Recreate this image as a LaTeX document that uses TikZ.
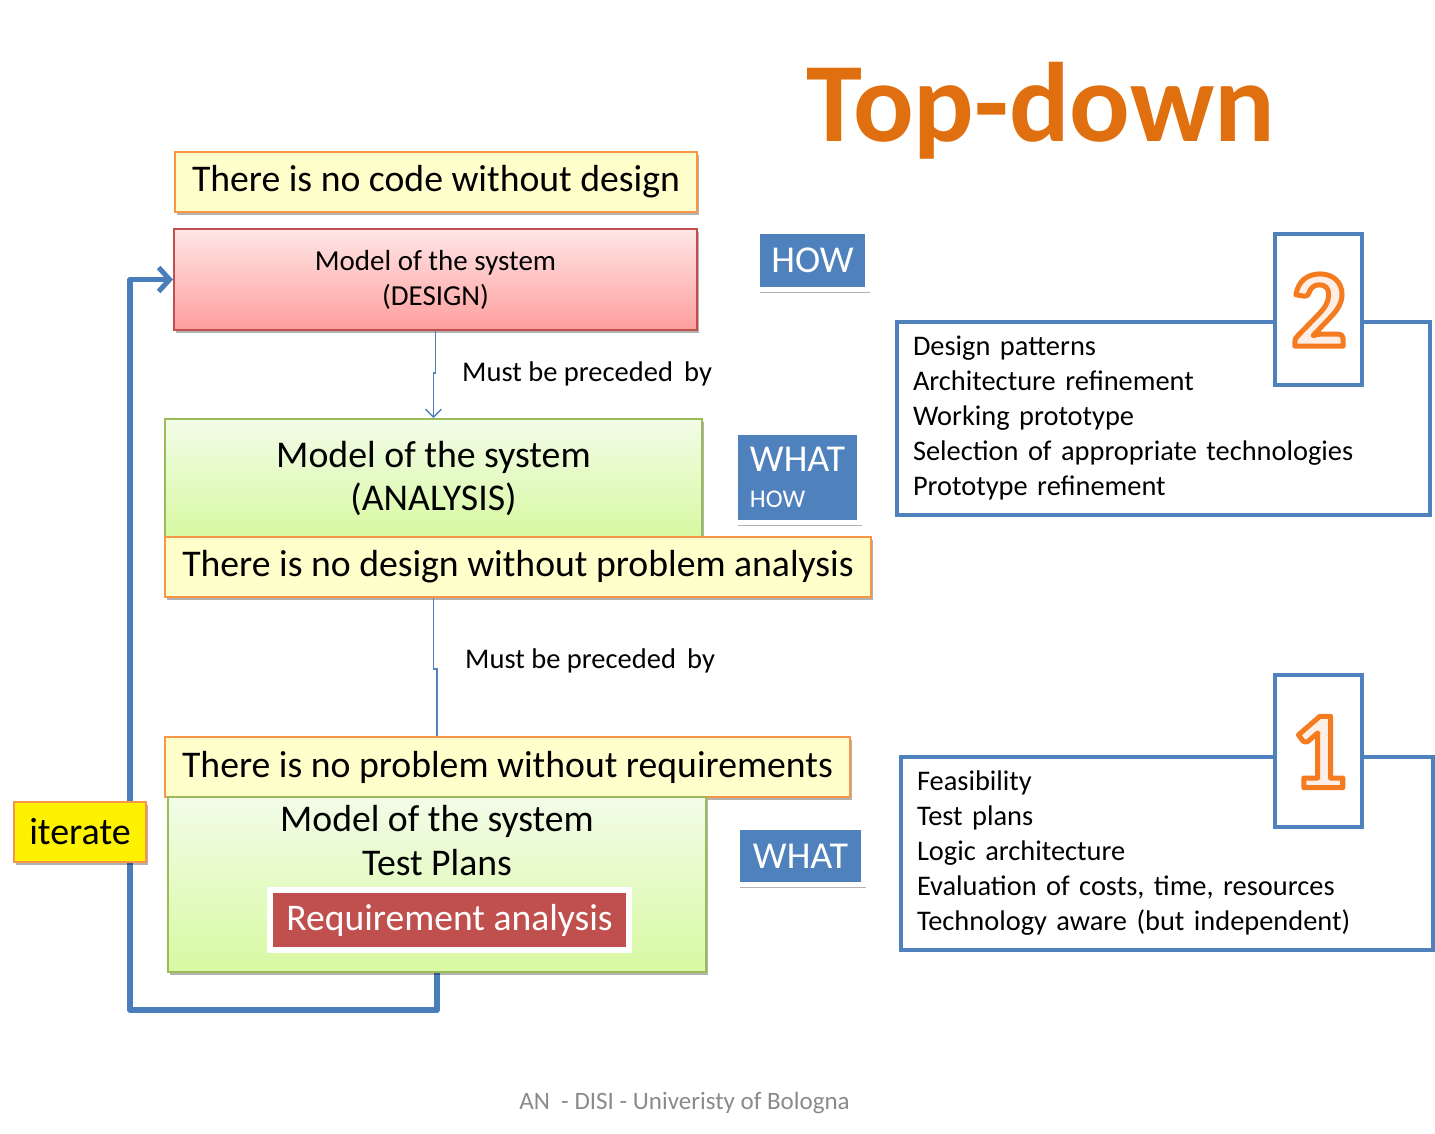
\documentclass[tikz,border=0pt]{standalone}
\usepackage{fontspec}
\setmainfont{Carlito}
\usetikzlibrary{shadows,arrows.meta}

\definecolor{ruleyellow}{HTML}{FFFFCC}
\definecolor{ruleorange}{HTML}{F79646}
\definecolor{designred}{HTML}{C0504D}
\definecolor{designtop}{HTML}{FFE6E6}
\definecolor{designbot}{HTML}{FF9E9E}
\definecolor{greentop}{HTML}{F2FCE8}
\definecolor{greenbot}{HTML}{D8F9A2}
\definecolor{greenline}{HTML}{9BBB59}
\definecolor{tagblue}{HTML}{4F81BD}
\definecolor{loopblue}{HTML}{4A7EBB}
\definecolor{titleorange}{HTML}{E0700F}
\definecolor{digitfill}{HTML}{FDEFE6}
\definecolor{footgray}{HTML}{8A8A8A}

\tikzset{
  softshadow/.style={drop shadow={shadow xshift=2pt, shadow yshift=-3pt, opacity=0.3, fill=black}},
  rulebox/.style={draw=ruleorange, line width=2pt, fill=ruleyellow, inner sep=0pt,
    font=\fontsize{37.7}{44}\selectfont, softshadow},
  designbox/.style={draw=designred, line width=2pt, top color=designtop, bottom color=designbot,
    inner sep=0pt, align=center, font=\fontsize{29}{35}\selectfont, softshadow},
  greenbox/.style={draw=greenline, line width=2pt, top color=greentop, bottom color=greenbot,
    inner sep=0pt, align=center, font=\fontsize{37.8}{43}\selectfont, softshadow},
  tagbox/.style={draw=white, line width=5pt, fill=tagblue, text=white, inner sep=0pt,
    font=\fontsize{38}{40}\selectfont, softshadow},
  reqbox/.style={draw=white, line width=6pt, fill=designred, text=white, inner sep=0pt,
    font=\fontsize{37.6}{40}\selectfont, softshadow},
  iteratebox/.style={draw=ruleorange, line width=2pt, fill=yellow, inner sep=0pt,
    font=\fontsize{38}{42}\selectfont, softshadow},
  listbox/.style={draw=tagblue, line width=4pt, fill=white, inner xsep=16pt, inner ysep=0pt,
    align=left, font=\fontsize{28.4}{35}\selectfont},
  digitbox/.style={draw=tagblue, line width=4pt, fill=white, inner sep=0pt},
  digit/.style={inner sep=0pt, text=digitfill, font=\fontsize{110}{120}\selectfont\bfseries},
  precede/.style={draw=tagblue, line width=1.3pt, -{Straight Barb[length=8pt,width=16pt,line width=1.3pt]}},
  precedeplain/.style={draw=tagblue, line width=1.3pt},
  iterloop/.style={draw=loopblue, line width=5.5pt, line join=round, line cap=round,
    -{Straight Barb[length=11pt,width=24pt,line width=5pt]}},
  caption/.style={anchor=west, inner sep=0pt, font=\fontsize{28.5}{32}\selectfont},
  title/.style={anchor=base, inner sep=0pt, text=titleorange, font=\fontsize{113}{120}\selectfont\bfseries},
}

% pale digit with a thick orange stroked outline (PDF text render mode 2)
\newcommand\strokeddigit[1]{%
  \special{pdf:literal direct 0.957 0.482 0.125 RG 5 w 1 j 2 Tr}#1\special{pdf:literal direct 0 Tr 1 w 0 j}}

\begin{document}
\begin{tikzpicture}[x=1pt, y=-1pt]
  \useasboundingbox (0,0) rectangle (1435,1133);

  % title
  \node[title] (title) at (1041,141) {Top-down};

  % left column: design, analysis, requirements
  \node[rulebox, minimum width=522pt, minimum height=60pt] (nocode) at (436,182)
    {There is no code without design};
  \node[designbox, minimum width=523pt, minimum height=101pt] (design) at (435.5,279.5)
    {Model of the system\\(DESIGN)};
  \node[greenbox, minimum width=537pt, minimum height=118pt] (analysis) at (433.5,478)
    {Model of the system\\(ANALYSIS)};
  \node[rulebox, minimum width=706pt, minimum height=60pt] (noanalysis) at (518,567)
    {There is no design without problem analysis};

  \draw[precede] (design.south) -- ++(0,42) -| (analysis.north);
  \node[caption] (cap1) at (462,374) {Must be preceded\,\ by};

  \node[rulebox, minimum width=685pt, minimum height=60pt] (noproblem) at (507.5,767)
    {There is no problem without requirements};

  \draw[precedeplain] (noanalysis.south -| analysis.south) -- ++(0,71) -| (noproblem.north -| 437,0);
  \node[caption] (cap2) at (465,661) {Must be preceded\,\ by};

  % iteration loop, drawn beneath the boxes
  \coordinate (loopcorner) at (130,1010);
  \coordinate (loopstart) at (437,972);
  \draw[iterloop] (loopstart) |- (loopcorner) |- (design.west);

  \node[greenbox, minimum width=538pt, minimum height=175pt] (model1) at (437,884.5) {};
  \node[inner sep=0pt, align=center, font=\fontsize{37.7}{44}\selectfont] (model1text) at (437,841)
    {Model of the system\\Test Plans};
  \node[reqbox, minimum width=359pt, minimum height=60pt] (req) at (449.5,920)
    {Requirement analysis};

  \node[iteratebox, minimum width=132pt, minimum height=60pt] (iterate) at (80,832) {iterate};

  % WHAT / HOW tags
  \node[tagbox, minimum width=110pt, minimum height=58pt] (how) at (812.5,260.5) {HOW};
  \node[tagbox, minimum width=124pt, minimum height=90pt, align=left] (whathow) at (797.5,477.5)
    {WHAT\\[-4pt]{\fontsize{25.5}{30}\selectfont HOW}};
  \node[tagbox, minimum width=126pt, minimum height=57pt] (what) at (800.5,856) {WHAT};

  % right column: numbered activity lists
  \node[listbox, text width=501pt, minimum height=193pt] (list2) at (1163.5,418.5)
    {Design patterns\\Architecture refinement\\Working prototype\\Selection of appropriate technologies\\Prototype refinement};
  \node[digitbox, minimum width=87pt, minimum height=151pt] (num2) at (1318.5,309.5) {};
  \node[digit] (digit2) at (1319,310) {\strokeddigit{2}};

  \node[listbox, text width=500pt, minimum height=193pt] (list1) at (1167,853.5)
    {Feasibility\\Test plans\\Logic architecture\\Evaluation of costs, time, resources\\Technology aware (but independent)};
  \node[digitbox, minimum width=87pt, minimum height=152pt] (num1) at (1318.5,751) {};
  \node[digit] (digit1) at (1319,752) {\strokeddigit{1}};

  % footer
  \node[inner sep=0pt, text=footgray, font=\fontsize{25}{29}\selectfont] (footer) at (684.5,1103)
    {AN\ \ - DISI - Univeristy of Bologna};
\end{tikzpicture}
\end{document}
